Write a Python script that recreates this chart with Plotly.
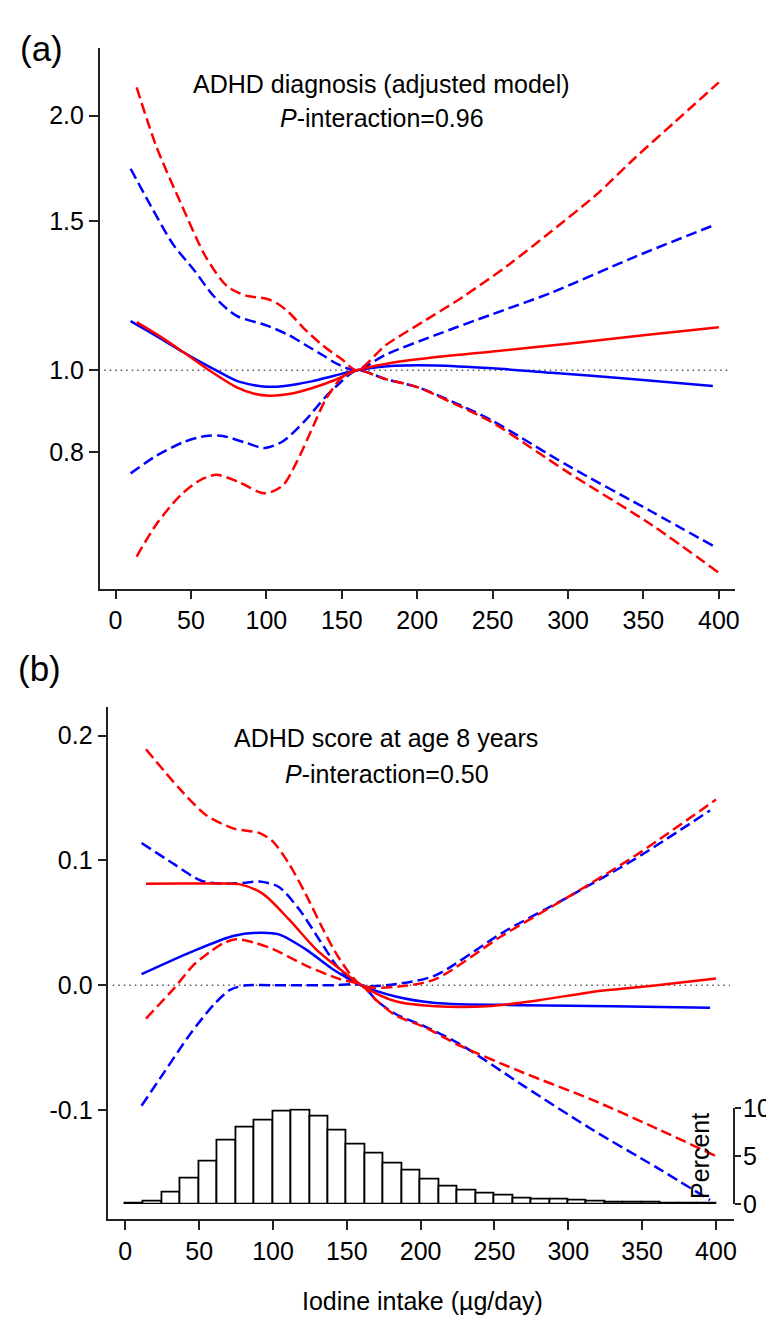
import plotly.graph_objects as go

# ---- data ----
# panel (a): relative risk of ADHD diagnosis, log scale
A_RED_X = [14, 30, 45, 62, 80, 92, 102, 115, 130, 145, 160, 180, 210, 250, 300, 350, 400]
A_RED = [1.14, 1.095, 1.05, 1.0, 0.955, 0.938, 0.933, 0.937, 0.952, 0.973, 1.0, 1.018, 1.035, 1.052, 1.075, 1.10, 1.124]
A_RED_HI_X = [14, 27, 43, 60, 74, 86, 100, 107, 115, 125, 137, 150, 160, 179, 200, 230, 260, 289, 320, 344, 370, 400]
A_RED_HI = [2.16, 1.84, 1.58, 1.36, 1.257, 1.226, 1.215, 1.20, 1.17, 1.12, 1.071, 1.03, 1.0, 1.07, 1.13, 1.22, 1.33, 1.46, 1.62, 1.78, 1.96, 2.19]
A_RED_LO_X = [14, 27, 43, 56, 67, 82, 99, 111, 120, 131, 139, 150, 160, 179, 200, 225, 249, 300, 355, 400]
A_RED_LO = [0.602, 0.657, 0.711, 0.741, 0.752, 0.737, 0.715, 0.731, 0.778, 0.858, 0.921, 0.98, 1.0, 0.976, 0.955, 0.912, 0.869, 0.757, 0.657, 0.576]
A_BLUE_X = [10, 30, 45, 62, 80, 92, 100, 112, 130, 145, 160, 185, 212, 250, 289, 340, 396]
A_BLUE = [1.143, 1.09, 1.05, 1.01, 0.972, 0.96, 0.956, 0.958, 0.97, 0.985, 1.0, 1.012, 1.013, 1.005, 0.993, 0.977, 0.958]
A_BLUE_HI_X = [10, 23, 38, 52, 65, 80, 100, 115, 126, 138, 148, 160, 179, 212, 250, 289, 344, 395]
A_BLUE_HI = [1.731, 1.569, 1.41, 1.314, 1.224, 1.16, 1.13, 1.10, 1.071, 1.04, 1.015, 1.0, 1.043, 1.10, 1.165, 1.235, 1.361, 1.48]
A_BLUE_LO_X = [10, 27, 45, 60, 71, 87, 99, 111, 126, 139, 148, 160, 179, 200, 225, 249, 300, 355, 396]
A_BLUE_LO = [0.755, 0.792, 0.822, 0.836, 0.836, 0.82, 0.809, 0.824, 0.873, 0.929, 0.963, 1.0, 0.976, 0.955, 0.915, 0.873, 0.771, 0.681, 0.62]

# panel (b): difference in ADHD score at age 8
B_RED_X = [14, 40, 60, 77, 93, 111, 129, 145, 160, 183, 210, 248, 280, 315, 360, 400]
B_RED = [0.0813, 0.0815, 0.0815, 0.081, 0.0734, 0.0525, 0.029, 0.0133, 0.0, -0.0128, -0.0167, -0.0165, -0.012, -0.0055, 0.0, 0.0055]
B_RED_HI_X = [14, 37, 55, 73, 91, 100, 111, 122, 134, 145, 160, 185, 210, 255, 300, 345, 400]
B_RED_HI = [0.189, 0.157, 0.136, 0.1257, 0.1218, 0.115, 0.097, 0.0734, 0.0447, 0.0212, 0.0, -0.001, 0.005, 0.0395, 0.0708, 0.1035, 0.1487]
B_RED_LO_X = [14, 33, 46, 57, 66, 75, 88, 100, 122, 145, 160, 170, 183, 203, 226, 270, 315, 360, 400]
B_RED_LO = [-0.0266, -0.0024, 0.016, 0.0264, 0.0335, 0.0368, 0.034, 0.029, 0.016, 0.005, 0.0, -0.012, -0.024, -0.0337, -0.048, -0.0702, -0.0911, -0.1147, -0.1368]
B_BLUE_X = [11, 44, 73, 91, 104, 122, 140, 160, 183, 210, 270, 330, 396]
B_BLUE = [0.0089, 0.0264, 0.0395, 0.0421, 0.0408, 0.029, 0.0133, 0.0, -0.0089, -0.0141, -0.0159, -0.0168, -0.018]
B_BLUE_HI_X = [11, 33, 51, 66, 80, 91, 104, 118, 134, 145, 160, 187, 210, 255, 300, 345, 396]
B_BLUE_HI = [0.114, 0.097, 0.0839, 0.0813, 0.082, 0.0831, 0.0787, 0.0604, 0.0317, 0.013, 0.0, 0.0016, 0.008, 0.0418, 0.0708, 0.101, 0.140]
B_BLUE_LO_X = [11, 26, 44, 60, 71, 82, 100, 120, 140, 160, 170, 183, 203, 226, 270, 315, 360, 396]
B_BLUE_LO = [-0.0964, -0.0702, -0.0389, -0.0154, -0.0036, 0.0, 0.0, 0.0, 0.0, 0.0, -0.012, -0.023, -0.033, -0.0467, -0.0807, -0.1147, -0.146, -0.172]

# histogram of iodine intake, 12.5 ug/day bins from 0 to 400 (percent)
BIN_W = 12.5
HIST_PCT = [0.1, 0.3, 1.2, 2.7, 4.5, 6.7, 8.05, 8.77, 9.73, 9.8, 9.2, 7.7, 6.24, 5.3, 4.27, 3.5,
            2.6, 1.88, 1.47, 1.13, 0.86, 0.58, 0.51, 0.45, 0.35, 0.25, 0.2, 0.15, 0.12, 0.1, 0.08, 0.06]
HIST_X = [BIN_W * (i + 0.5) for i in range(len(HIST_PCT))]

X_TICKS = [0, 50, 100, 150, 200, 250, 300, 350, 400]
A_TICKS = [0.8, 1.0, 1.5, 2.0]
B_TICKS = [-0.1, 0.0, 0.1, 0.2]
PCT_TICKS = [0, 5, 10]

# ---- layout helpers (pixel -> paper) ----
W, H = 774, 1322
def px(x): return x / W
def py(y): return 1 - y / H

RED, BLUE = "#FF0000", "#0000FF"
FONT = "Liberation Sans, Arial, sans-serif"
DASH = "11px,5px"
XR_A = [-10.5, 410.7]
XR_B = [-11.5, 412.4]

fig = go.Figure()

def ref_line(xr, yv, xa, ya):
    fig.add_trace(go.Scatter(x=[xr[0] + 3, xr[1] - 3], y=[yv, yv], mode="lines", xaxis=xa, yaxis=ya,
                             line=dict(color="#555", width=1.4, dash="1.5px,4px"), hoverinfo="skip"))

def curve(x, y, col, dash, xa, ya):
    fig.add_trace(go.Scatter(x=x, y=y, mode="lines", xaxis=xa, yaxis=ya,
                             line=dict(color=col, width=2.5, dash=dash, shape="spline", smoothing=0.8)))

ref_line(XR_A, 1.0, "x", "y")
for x, y, c, d in [(A_BLUE_HI_X, A_BLUE_HI, BLUE, DASH), (A_BLUE_LO_X, A_BLUE_LO, BLUE, DASH),
                   (A_BLUE_X, A_BLUE, BLUE, "solid"), (A_RED_HI_X, A_RED_HI, RED, DASH),
                   (A_RED_LO_X, A_RED_LO, RED, DASH), (A_RED_X, A_RED, RED, "solid")]:
    curve(x, y, c, d, "x", "y")

fig.add_trace(go.Bar(x=HIST_X, y=HIST_PCT, width=BIN_W, xaxis="x2", yaxis="y3",
                     marker=dict(color="white", line=dict(color="black", width=1.8))))
ref_line(XR_B, 0.0, "x2", "y2")
for x, y, c, d in [(B_BLUE_HI_X, B_BLUE_HI, BLUE, DASH), (B_BLUE_LO_X, B_BLUE_LO, BLUE, DASH),
                   (B_BLUE_X, B_BLUE, BLUE, "solid"), (B_RED_HI_X, B_RED_HI, RED, DASH),
                   (B_RED_LO_X, B_RED_LO, RED, DASH), (B_RED_X, B_RED, RED, "solid")]:
    curve(x, y, c, d, "x2", "y2")

ax = dict(showgrid=False, zeroline=False, showline=True, linecolor="#222", linewidth=1.5,
          ticks="outside", ticklen=9, tickwidth=1.5, tickcolor="#222",
          tickfont=dict(family=FONT, size=25, color="black"))

fig.update_layout(
    width=W, height=H, margin=dict(l=0, r=0, t=0, b=0), showlegend=False,
    paper_bgcolor="white", plot_bgcolor="rgba(0,0,0,0)", bargap=0,
    xaxis=dict(ax, domain=[px(92.3), px(731.7)], range=XR_A, tickvals=X_TICKS, anchor="y"),
    yaxis=dict(ax, domain=[py(579), py(27)], type="log", range=[-0.2585, 0.3806],
               tickvals=A_TICKS, ticktext=[f"{v:.1f}" for v in A_TICKS], anchor="x"),
    xaxis2=dict(ax, domain=[px(101), px(731)], range=XR_B, tickvals=X_TICKS, anchor="y2"),
    yaxis2=dict(ax, domain=[py(1223), py(700)], range=[-0.1872, 0.2227],
                tickvals=B_TICKS, ticktext=[f"{v:.1f}" for v in B_TICKS], anchor="x2"),
    yaxis3=dict(ax, domain=[py(1207.7), py(1110)], range=[0, 10], tickvals=PCT_TICKS,
                side="right", anchor="free", position=px(731), ticklen=6, ticklabelstandoff=-3),
)

def note(text, x, y, size=25, **kw):
    fig.add_annotation(text=text, x=px(x), y=py(y), xref="paper", yref="paper", showarrow=False,
                       xanchor="center", yanchor="middle",
                       font=dict(family=FONT, size=size, color="black"), **kw)

note("(a)", 34, 27, size=35)
note("(b)", 32, 660, size=35)
note("ADHD diagnosis (adjusted model)", 376, 63)
note("<i>P</i>-interaction=0.96", 376, 98)
note("ADHD score at age 8 years", 380, 732)
note("<i>P</i>-interaction=0.50", 381, 768)
note("Iodine intake (µg/day)", 417.5, 1307)
note("Percent", 697, 1158, textangle=-90)

fig.write_html("out.html")
